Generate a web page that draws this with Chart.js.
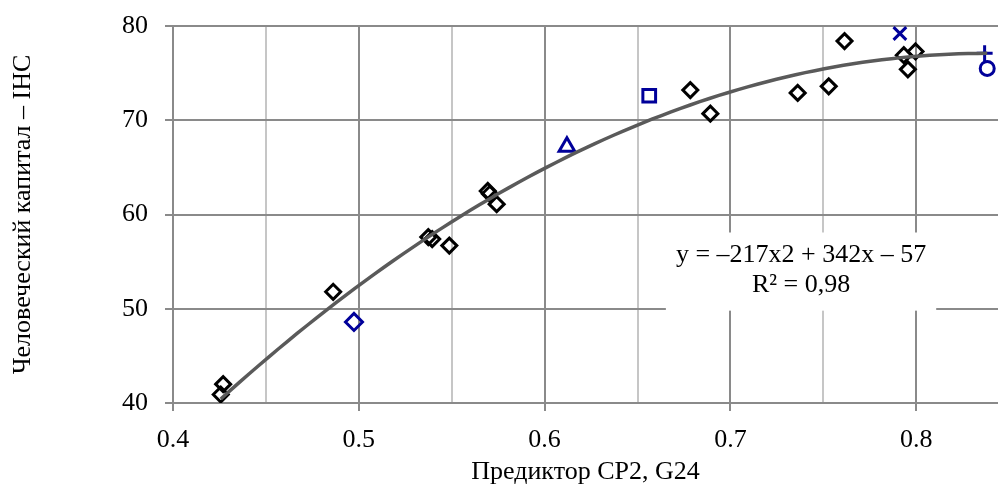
<!DOCTYPE html>
<html>
<head>
<meta charset="utf-8">
<script src="https://cdn.jsdelivr.net/npm/chart.js@4.4.1/dist/chart.umd.min.js"></script>
<style>
  html, body { margin: 0; padding: 0; background: #fff; }
  #wrap { width: 998px; height: 486px; }
</style>
</head>
<body>
<div id="wrap"><canvas id="chart" width="998" height="486"></canvas></div>
<script>
// countries (black diamonds)
var countryX = [0.4270, 0.4257, 0.4862, 0.5374, 0.5395, 0.5487, 0.5694, 0.5705, 0.5742,
                0.6784, 0.6892, 0.7362, 0.7529, 0.7614, 0.7933, 0.7996, 0.7955];
var countryY = [42.0, 40.9, 51.8, 57.6, 57.4, 56.7, 62.5, 62.2, 61.1,
                73.2, 70.7, 72.9, 73.6, 78.4, 76.9, 77.3, 75.4];

// highlighted countries (blue markers)
var markedX = [0.4974, 0.6120, 0.6563, 0.7912, 0.8368, 0.8382];
var markedY = [48.6, 67.2, 72.6, 79.2, 77.1, 75.5];
var markedShapes = ['rectRot', 'triangle', 'rect', 'crossRot', 'cross', 'circle'];
var markedSizes = [8.5, 9, 9, 9, 8, 7];

var yTicks = [40, 50, 60, 70, 80];
var trendLines = ['y = \u2013217x2 + 342x \u2013 57', 'R\u00b2 = 0,98'];

var FONT = 'Liberation Serif';
var BLUE = '#00009a';
var MAJOR = '#8a8a8a';
var MINOR = '#c6c6c6';

function isMajor(v) {
  return Math.abs(v * 10 - Math.round(v * 10)) < 1e-6;
}

// least-squares 2nd order polynomial, returns [a, b, c] for a*x^2 + b*x + c
function fitQuadratic(xs, ys) {
  var s = [0, 0, 0, 0, 0], t = [0, 0, 0];
  for (var i = 0; i < xs.length; i++) {
    var p = 1;
    for (var k = 0; k < 5; k++) {
      s[k] += p;
      if (k < 3) t[k] += p * ys[i];
      p *= xs[i];
    }
  }
  var m = [
    [s[4], s[3], s[2], t[2]],
    [s[3], s[2], s[1], t[1]],
    [s[2], s[1], s[0], t[0]]
  ];
  for (var c = 0; c < 3; c++) {
    for (var r = c + 1; r < 3; r++) {
      var f = m[r][c] / m[c][c];
      for (var j = c; j < 4; j++) m[r][j] -= f * m[c][j];
    }
  }
  var res = [0, 0, 0];
  for (var r2 = 2; r2 >= 0; r2--) {
    var sum = m[r2][3];
    for (var j2 = r2 + 1; j2 < 3; j2++) sum -= m[r2][j2] * res[j2];
    res[r2] = sum / m[r2][r2];
  }
  return res;
}

var allX = countryX.concat(markedX);
var allY = countryY.concat(markedY);
var coef = fitQuadratic(allX, allY);
var xLo = Math.min.apply(null, allX);
var xHi = Math.max.apply(null, allX);
var trend = [];
for (var i = 0; i <= 80; i++) {
  var x = xLo + (xHi - xLo) * i / 80;
  trend.push({ x: x, y: coef[0] * x * x + coef[1] * x + coef[2] });
}

function toPoints(xs, ys) {
  var out = [];
  for (var i = 0; i < xs.length; i++) out.push({ x: xs[i], y: ys[i] });
  return out;
}

var datasets = [{
  type: 'line',
  data: trend,
  borderColor: '#5a5a5a',
  borderWidth: 3.5,
  pointRadius: 0,
  tension: 0,
  order: 0
}, {
  data: toPoints(countryX, countryY),
  pointStyle: 'rectRot',
  pointRadius: 7.5,
  borderColor: '#000',
  backgroundColor: 'rgba(0,0,0,0)',
  borderWidth: 3,
  order: 1
}];

for (var m = 0; m < markedX.length; m++) {
  datasets.push({
    data: [{ x: markedX[m], y: markedY[m] }],
    pointStyle: markedShapes[m],
    pointRadius: markedSizes[m],
    borderColor: BLUE,
    backgroundColor: 'rgba(0,0,0,0)',
    borderWidth: 3,
    order: 1
  });
}

// equation box over the grid
var trendLabel = {
  id: 'trendLabel',
  beforeDatasetsDraw: function (chart) {
    var ctx = chart.ctx;
    var xs = chart.scales.x, ys = chart.scales.y;
    var cx = xs.getPixelForValue(0.738);
    var y1 = ys.getPixelForValue(55.65);
    var y2 = ys.getPixelForValue(52.45);
    ctx.save();
    ctx.font = '26px "' + FONT + '"';
    var w = ctx.measureText(trendLines[0]).width;
    ctx.fillStyle = '#fff';
    ctx.fillRect(cx - w / 2 - 10, y1 - 23, w + 20, (y2 - y1) + 48);
    ctx.fillStyle = '#000';
    ctx.textAlign = 'center';
    ctx.textBaseline = 'middle';
    ctx.fillText(trendLines[0], cx, y1);
    ctx.fillText(trendLines[1], cx, y2);
    ctx.restore();
  }
};

function noPadding(scale) {
  scale.paddingLeft = 0;
  scale.paddingRight = 0;
  scale.paddingTop = 0;
  scale.paddingBottom = 0;
}

new Chart(document.getElementById('chart'), {
  type: 'scatter',
  data: { datasets: datasets },
  plugins: [trendLabel],
  options: {
    responsive: false,
    animation: false,
    devicePixelRatio: 1,
    layout: { autoPadding: false, padding: { top: 26, right: 0, left: 0, bottom: 0 } },
    plugins: { legend: { display: false }, tooltip: { enabled: false } },
    scales: {
      x: {
        type: 'linear',
        min: 0.4,
        max: 0.844,
        afterFit: function (scale) { scale.height = 83; noPadding(scale); },
        ticks: {
          stepSize: 0.05,
          includeBounds: false,
          autoSkip: false,
          maxRotation: 0,
          padding: 14,
          color: '#000',
          font: { family: FONT, size: 26 },
          callback: function (v) { return isMajor(v) ? v.toFixed(1) : ''; }
        },
        grid: {
          color: function (c) { return isMajor(c.tick.value) ? MAJOR : MINOR; },
          tickColor: function (c) { return isMajor(c.tick.value) ? MAJOR : 'rgba(0,0,0,0)'; },
          lineWidth: 2,
          tickLength: 8
        },
        border: { color: MAJOR, width: 2 },
        title: {
          display: true,
          text: 'Предиктор СР2, G24',
          color: '#000',
          font: { family: FONT, size: 26 },
          padding: { top: 0, bottom: -2 }
        }
      },
      y: {
        min: yTicks[0],
        max: yTicks[yTicks.length - 1],
        afterFit: function (scale) { scale.width = 173; noPadding(scale); },
        afterBuildTicks: function (scale) {
          scale.ticks = yTicks.map(function (v) { return { value: v }; });
        },
        ticks: {
          padding: 17,
          color: '#000',
          font: { family: FONT, size: 26 }
        },
        grid: { color: MAJOR, lineWidth: 2, tickLength: 8 },
        border: { color: MAJOR, width: 2 },
        title: {
          display: true,
          text: 'Человеческий капитал \u2013 IHC',
          color: '#000',
          font: { family: FONT, size: 26 },
          padding: { top: 8, bottom: 0 }
        }
      }
    }
  }
});
</script>
</body>
</html>
